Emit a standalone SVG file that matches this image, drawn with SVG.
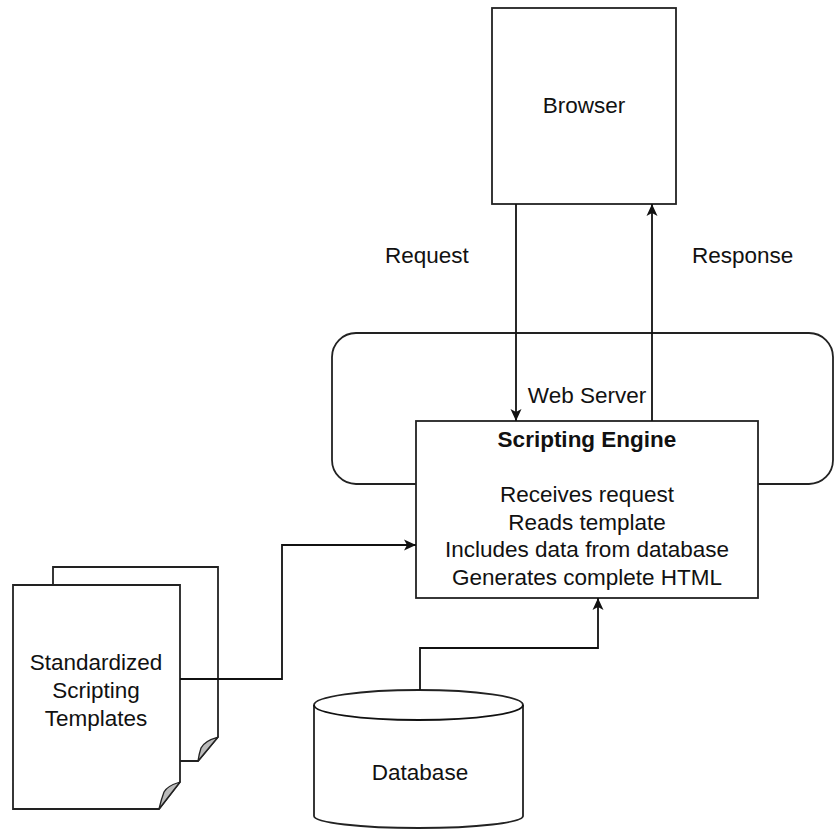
<svg xmlns="http://www.w3.org/2000/svg" width="835" height="831" viewBox="0 0 835 831">
<style>
  .shape { fill: #ffffff; stroke: #222222; stroke-width: 1.8; }
  .curl { fill: #bbbbbb; stroke: #222222; stroke-width: 1.3; stroke-linejoin: round; }
  .line { fill: none; stroke: #111111; stroke-width: 1.8; }
  text { font-family: "Liberation Sans", Arial, sans-serif; font-size: 22.5px; fill: #111111; }
  .c { text-anchor: middle; }
  .b { font-weight: bold; }
</style>
<defs>
  <marker id="arrow" viewBox="0 0 12 12" refX="12" refY="6" markerWidth="12" markerHeight="12" markerUnits="userSpaceOnUse" orient="auto">
    <path d="M0,0.5 L12,6 L0,11.5 L3,6 Z" fill="#111111"/>
  </marker>
</defs>
<rect width="835" height="831" fill="#ffffff"/>

<g id="webserver">
  <rect class="shape" x="332" y="333" width="501" height="151" rx="24" ry="24"/>
  <text class="c" x="587" y="403">Web Server</text>
</g>

<g id="browser">
  <rect class="shape" x="492" y="8" width="184" height="196"/>
  <text class="c" x="584" y="113">Browser</text>
</g>

<g id="engine">
  <rect class="shape" x="416" y="421" width="342" height="177"/>
  <text class="c b" x="587" y="447">Scripting Engine</text>
  <text class="c" x="587" y="502">Receives request</text>
  <text class="c" x="587" y="529.5">Reads template</text>
  <text class="c" x="587" y="557">Includes data from database</text>
  <text class="c" x="587" y="584.5">Generates complete HTML</text>
</g>

<g id="templates">
  <path class="shape" d="M53,567 H218 V737 L198,761 H53 Z"/>
  <path class="curl" d="M218,737 Q204,741 201,748 Q199,754 198,761 Z"/>
  <path class="shape" d="M13,585 H180 V782 L159,809 H13 Z"/>
  <path class="curl" d="M180,782 Q167,786 164,792 Q161,800 159,809 Z"/>
  <text class="c" x="96" y="670">Standardized</text>
  <text class="c" x="96" y="698">Scripting</text>
  <text class="c" x="96" y="726">Templates</text>
</g>

<g id="database">
  <path class="shape" d="M314,705 A104.5,15 0 0 1 523,705 V816 A104.5,12 0 0 1 314,816 Z"/>
  <path class="line" d="M314,705 A104.5,15 0 0 0 523,705"/>
  <text class="c" x="420" y="780">Database</text>
</g>

<g id="labels">
  <text x="385" y="263">Request</text>
  <text x="692" y="263">Response</text>
</g>

<g id="connectors">
  <path class="line" d="M516,204 V421" marker-end="url(#arrow)"/>
  <path class="line" d="M652,421 V204" marker-end="url(#arrow)"/>
  <path class="line" d="M180,679 H282 V545 H416" marker-end="url(#arrow)"/>
  <path class="line" d="M420,690 V648 H598 V598" marker-end="url(#arrow)"/>
</g>
</svg>
